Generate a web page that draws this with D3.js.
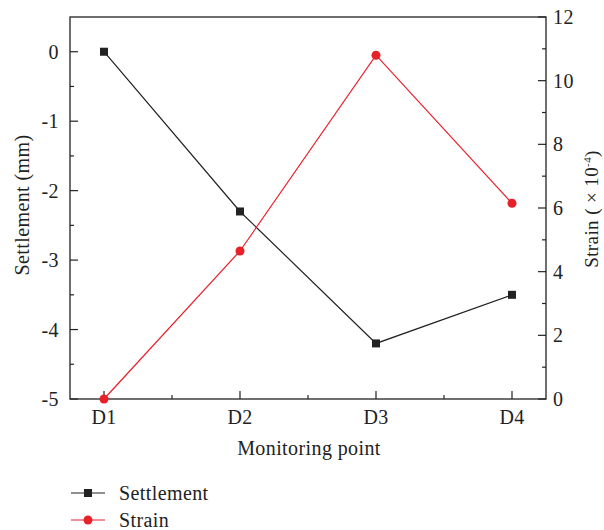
<!DOCTYPE html>
<html><head><meta charset="utf-8">
<script src="https://cdn.jsdelivr.net/npm/d3@7"></script>
<style>body{margin:0;background:#fff}svg{display:block}text{font-family:"Liberation Serif","DejaVu Serif",serif;fill:#222;letter-spacing:0.4px}</style>
</head><body>
<script>
const categories = ["D1","D2","D3","D4"];
const settlement = [0, -2.3, -4.2, -3.5];
const strain = [0, 4.65, 10.8, 6.15];
const leftTicks = [0,-1,-2,-3,-4,-5];
const rightTicks = [0,2,4,6,8,10,12];
const seriesNames = ["Settlement","Strain"];

const W=604,H=530;
const L=70,R=546,T=17,B=399;
const svg=d3.select("body").append("svg").attr("width",W).attr("height",H);
const x=d3.scaleLinear().domain([0.75,4.25]).range([L,R]);
const yL=d3.scaleLinear().domain([-5,0.5]).range([B,T]);
const yR=d3.scaleLinear().domain([0,12]).range([B,T]);
const ink="#222", red="#e8202a";
const fs=20;

// frame
svg.append("rect").attr("x",L).attr("y",T).attr("width",R-L).attr("height",B-T).attr("fill","none").attr("stroke",ink).attr("stroke-width",1.3);

// left axis
const ga=svg.append("g");
d3.range(-5,0.5,0.5).forEach(v=>{
  const major=Math.abs(v-Math.round(v))<1e-9;
  ga.append("line").attr("x1",L).attr("x2",L+(major?8:4)).attr("y1",yL(v)).attr("y2",yL(v)).attr("stroke",ink).attr("stroke-width",1.2);
});
leftTicks.forEach(v=>ga.append("text").attr("x",L-11).attr("y",yL(v)).attr("dy","0.35em").attr("text-anchor","end").attr("font-size",fs).text(v));
// right axis
d3.range(0,12.5,1).forEach(v=>{
  const major=v%2===0;
  ga.append("line").attr("x1",R).attr("x2",R-(major?8:4)).attr("y1",yR(v)).attr("y2",yR(v)).attr("stroke",ink).attr("stroke-width",1.2);
});
rightTicks.forEach(v=>ga.append("text").attr("x",R+7).attr("y",yR(v)).attr("dy","0.35em").attr("text-anchor","start").attr("font-size",fs).text(v));
// bottom axis
d3.range(1,4.5,0.5).forEach(v=>{
  const major=Number.isInteger(v);
  ga.append("line").attr("x1",x(v)).attr("x2",x(v)).attr("y1",B).attr("y2",B-(major?8:4)).attr("stroke",ink).attr("stroke-width",1.2);
});
categories.forEach((c,i)=>ga.append("text").attr("x",x(i+1)).attr("y",B+25).attr("text-anchor","middle").attr("font-size",fs).text(c));

// axis titles
svg.append("text").attr("x",(L+R)/2+1).attr("y",455).attr("text-anchor","middle").attr("font-size",fs).text("Monitoring point");
svg.append("text").attr("transform",`translate(29,${(T+B)/2-3}) rotate(-90)`).attr("text-anchor","middle").attr("font-size",fs).text("Settlement (mm)");
const rt=svg.append("text").attr("transform",`translate(598,${(T+B)/2+1}) rotate(-90)`).attr("text-anchor","middle").attr("font-size",fs-1);
rt.append("tspan").text("Strain ( × 10");
rt.append("tspan").attr("dy",-7).attr("font-size",11).text("-4");
rt.append("tspan").attr("dy",7).text(")");

// lines
const lineL=d3.line().x((d,i)=>x(i+1)).y(d=>yL(d));
const lineR=d3.line().x((d,i)=>x(i+1)).y(d=>yR(d));
svg.append("path").attr("d",lineL(settlement)).attr("fill","none").attr("stroke",ink).attr("stroke-width",1.2);
svg.append("path").attr("d",lineR(strain)).attr("fill","none").attr("stroke",red).attr("stroke-width",1.2);
settlement.forEach((d,i)=>svg.append("rect").attr("x",x(i+1)-4).attr("y",yL(d)-4).attr("width",8).attr("height",8).attr("fill",ink));
strain.forEach((d,i)=>svg.append("circle").attr("cx",x(i+1)).attr("cy",yR(d)).attr("r",4.5).attr("fill",red));

// legend
const leg=[{n:seriesNames[0],c:ink,s:"sq",y:493},{n:seriesNames[1],c:red,s:"ci",y:520}];
leg.forEach(l=>{
  svg.append("line").attr("x1",71).attr("x2",105).attr("y1",l.y).attr("y2",l.y).attr("stroke",l.c).attr("stroke-width",1.2);
  if(l.s==="sq") svg.append("rect").attr("x",84).attr("y",l.y-4).attr("width",8).attr("height",8).attr("fill",l.c);
  else svg.append("circle").attr("cx",88).attr("cy",l.y).attr("r",4.5).attr("fill",l.c);
  svg.append("text").attr("x",119).attr("y",l.y).attr("dy","0.35em").attr("font-size",fs).text(l.n);
});
</script>
</body></html>
